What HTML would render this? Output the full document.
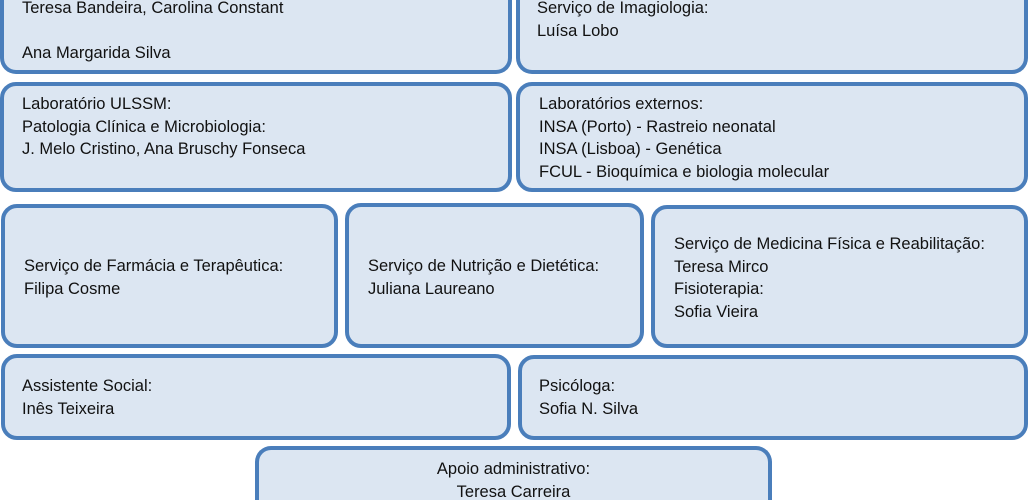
<!DOCTYPE html>
<html><head><meta charset="utf-8"><style>
html,body{margin:0;width:1030px;height:500px;overflow:hidden;}
body{background:#fff;position:relative;font-family:"Liberation Sans",sans-serif;font-size:16.5px;color:#111;}
.b{position:absolute;box-sizing:border-box;border:4px solid #4a7ebb;border-radius:16px;background:#dce6f2;}
.t{position:absolute;line-height:22.5px;white-space:nowrap;}
</style></head><body>
<div class="b" style="left:0;top:0;width:512px;height:74px;border-top:0;border-radius:0 0 16px 16px"></div>
<div class="b" style="left:516px;top:0;width:512px;height:74px;border-top:0;border-radius:0 0 16px 16px"></div>
<div class="b" style="left:0;top:82px;width:512px;height:110px"></div>
<div class="b" style="left:516px;top:82px;width:512px;height:110px"></div>
<div class="b" style="left:1px;top:204px;width:337px;height:144px"></div>
<div class="b" style="left:345px;top:203px;width:299px;height:145px"></div>
<div class="b" style="left:651px;top:205px;width:377px;height:143px"></div>
<div class="b" style="left:1px;top:354px;width:510px;height:86px"></div>
<div class="b" style="left:518px;top:355px;width:510px;height:85px"></div>
<div class="b" style="left:255px;top:446px;width:517px;height:54px;border-bottom:0;border-radius:16px 16px 0 0"></div>

<div class="t" style="left:22px;top:-3px">Teresa Bandeira, Carolina Constant<br><br>Ana Margarida Silva</div>
<div class="t" style="left:537px;top:-3px">Serviço de Imagiologia:<br>Luísa Lobo</div>
<div class="t" style="left:22px;top:93px">Laboratório ULSSM:<br>Patologia Clínica e Microbiologia:<br>J. Melo Cristino, Ana Bruschy Fonseca</div>
<div class="t" style="left:539px;top:93px">Laboratórios externos:<br>INSA (Porto) - Rastreio neonatal<br>INSA (Lisboa) - Genética<br>FCUL - Bioquímica e biologia molecular</div>
<div class="t" style="left:24px;top:255px">Serviço de Farmácia e Terapêutica:<br>Filipa Cosme</div>
<div class="t" style="left:368px;top:255px">Serviço de Nutrição e Dietética:<br>Juliana Laureano</div>
<div class="t" style="left:674px;top:233px">Serviço de Medicina Física e Reabilitação:<br>Teresa Mirco<br>Fisioterapia:<br>Sofia Vieira</div>
<div class="t" style="left:22px;top:375px">Assistente Social:<br>Inês Teixeira</div>
<div class="t" style="left:539px;top:375px">Psicóloga:<br>Sofia N. Silva</div>
<div class="t" style="left:255px;width:517px;text-align:center;top:458px;height:42px;overflow:hidden">Apoio administrativo:<br>Teresa Carreira</div>
</body></html>
